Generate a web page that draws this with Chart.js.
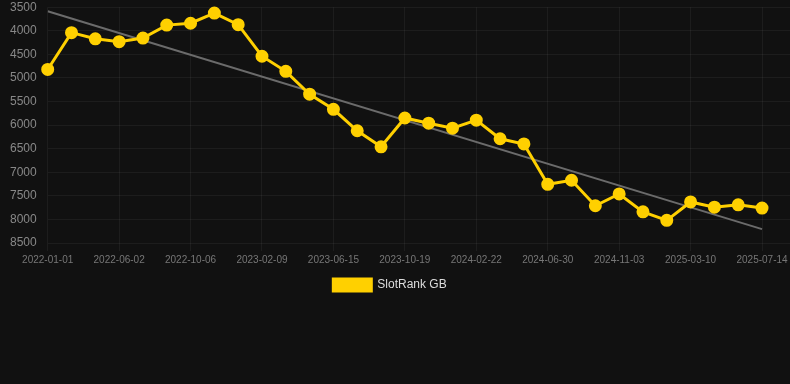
<!DOCTYPE html>
<html>
<head>
<meta charset="utf-8">
<script src="https://cdn.jsdelivr.net/npm/chart.js@4/dist/chart.umd.min.js"></script>
<style>
  html, body { margin: 0; padding: 0; background: #111111; }
  .chart-container { position: relative; width: 790px; height: 301px; }
</style>
</head>
<body>
<div class="chart-container">
  <canvas id="rank-chart"></canvas>
</div>
<script>
const dates = [
  "2022-01-01", "2022-02-20", "2022-04-11", "2022-06-02", "2022-07-14", "2022-08-25",
  "2022-10-06", "2022-11-17", "2022-12-29", "2023-02-09", "2023-03-23", "2023-05-04",
  "2023-06-15", "2023-07-27", "2023-09-07", "2023-10-19", "2023-11-30", "2024-01-11",
  "2024-02-22", "2024-04-04", "2024-05-17", "2024-06-30", "2024-08-11", "2024-09-22",
  "2024-11-03", "2024-12-15", "2025-01-26", "2025-03-10", "2025-04-21", "2025-06-02",
  "2025-07-14",
];

const rankGB = [
  4820, 4040, 4170, 4230, 4155, 3880, 3840, 3625, 3870, 4540, 4860,
  5345, 5665, 6120, 6460, 5850, 5960, 6065, 5895, 6290, 6400,
  7255, 7170, 7710, 7460, 7840, 8020, 7630, 7740, 7690, 7760,
];

// trend line end points (first and last date)
const trendStart = 3585;
const trendEnd = 8205;

const yTicks = { min: 3500, max: 8500, step: 500 };
const xTickEvery = 3;

const lastIdx = dates.length - 1;
const ctx = document.getElementById("rank-chart").getContext("2d");

// legend in the original sits a bit left of the canvas centre
const legendShift = {
  id: "legendShift",
  afterLayout(chart) {
    if (chart.legend) chart.legend.right -= 20;
  },
};

new Chart(ctx, {
  type: "line",
  data: {
    datasets: [
      {
        label: "SlotRank GB",
        data: rankGB.map((y, i) => ({ x: i, y })),
        borderColor: "#ffd000",
        backgroundColor: "#ffd000",
        borderWidth: 3,
        pointRadius: 5,
        pointHoverRadius: 5,
        pointBackgroundColor: "#ffd000",
        pointBorderColor: "#ffd000",
        tension: 0,
        clip: false,
        order: 1,
      },
      {
        label: "Trend",
        data: [
          { x: 0, y: trendStart },
          { x: lastIdx, y: trendEnd },
        ],
        borderColor: "#6b6b6b",
        backgroundColor: "transparent",
        borderWidth: 2,
        pointRadius: 0,
        pointHoverRadius: 0,
        order: 2,
      },
    ],
  },
  plugins: [legendShift],
  options: {
    responsive: true,
    maintainAspectRatio: false,
    animation: false,
    devicePixelRatio: 1,
    layout: { autoPadding: false, padding: { left: 10, right: 0, top: 0, bottom: 0 } },
    plugins: {
      tooltip: { enabled: false },
      legend: {
        display: true,
        position: "bottom",
        labels: {
          color: "#dddddd",
          font: { family: "Liberation Sans, Arial, sans-serif", size: 12 },
          boxWidth: 38,
          boxHeight: 12,
          filter: (item) => item.text === "SlotRank GB",
        },
      },
    },
    scales: {
      x: {
        type: "linear",
        min: 0,
        max: lastIdx + 1.175,
        afterFit: (scale) => {
          scale.paddingRight = 0;
        },
        grid: { color: "rgba(255, 255, 255, 0.05)", tickLength: 8 },
        border: { display: false },
        ticks: {
          stepSize: xTickEvery,
          includeBounds: false,
          color: "#777777",
          font: { family: "Liberation Sans, Arial, sans-serif", size: 10 },
          maxRotation: 0,
          padding: 3,
          callback: (value) => dates[value] || "",
        },
      },
      y: {
        reverse: true,
        min: yTicks.min,
        max: yTicks.max,
        grid: {
          color: "rgba(255, 255, 255, 0.05)",
          tickLength: 11,
          tickColor: "transparent",
        },
        border: { display: false },
        ticks: {
          stepSize: yTicks.step,
          color: "#888888",
          font: { family: "Liberation Sans, Arial, sans-serif", size: 12 },
          padding: 0,
          callback: (value) => String(value),
        },
      },
    },
  },
});
</script>
</body>
</html>
